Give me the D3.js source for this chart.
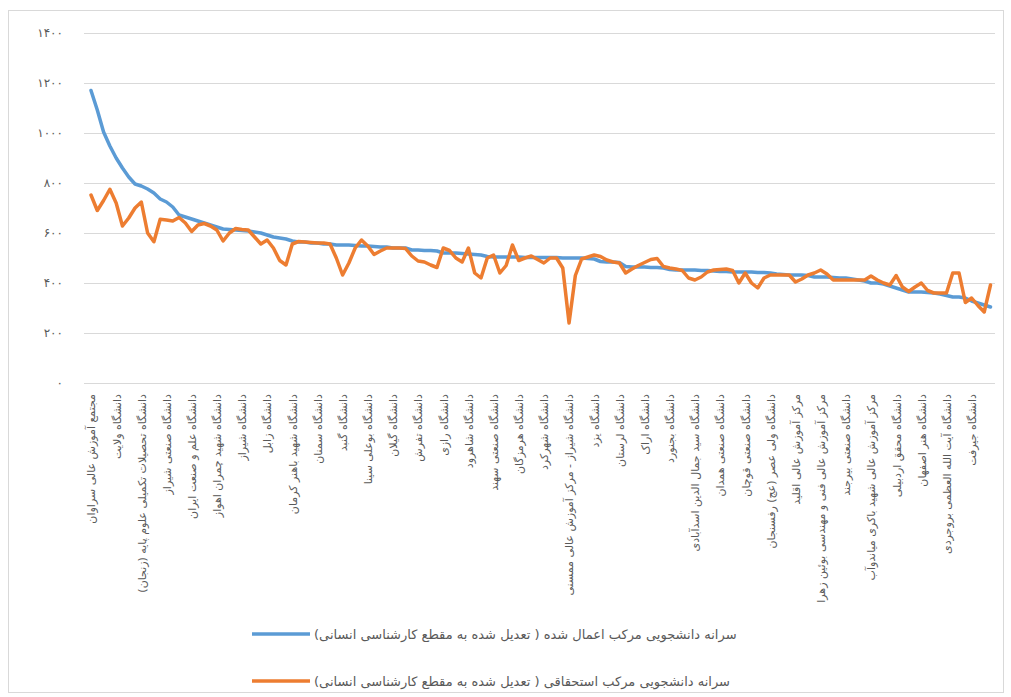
<!DOCTYPE html>
<html><head><meta charset="utf-8">
<script src="https://cdn.jsdelivr.net/npm/d3@7"></script>
<style>html,body{margin:0;padding:0;background:#fff;}svg{display:block;}</style>
</head><body>
<script>
// ---- data ----
const categoryLabels = [
"مجتمع آموزش عالی سراوان",
"دانشگاه ولایت",
"دانشگاه تحصیلات تکمیلی علوم پایه (زنجان)",
"دانشگاه صنعتی شیراز",
"دانشگاه علم و صنعت ایران",
"دانشگاه شهید چمران اهواز",
"دانشگاه شیراز",
"دانشگاه زابل",
"دانشگاه شهید باهنر کرمان",
"دانشگاه سمنان",
"دانشگاه گنبد",
"دانشگاه بوعلی سینا",
"دانشگاه گیلان",
"دانشگاه تفرش",
"دانشگاه رازی",
"دانشگاه شاهرود",
"دانشگاه صنعتی سهند",
"دانشگاه هرمزگان",
"دانشگاه شهرکرد",
"دانشگاه شیراز - مرکز آموزش عالی ممسنی",
"دانشگاه یزد",
"دانشگاه لرستان",
"دانشگاه اراک",
"دانشگاه بجنورد",
"دانشگاه سید جمال الدین اسدآبادی",
"دانشگاه صنعتی همدان",
"دانشگاه صنعتی قوچان",
"دانشگاه ولی عصر (عج) رفسنجان",
"مرکز آموزش عالی اقلید",
"مرکز آموزش عالی فنی و مهندسی بوئین زهرا",
"دانشگاه صنعتی بیرجند",
"مرکز آموزش عالی شهید باکری میاندوآب",
"دانشگاه محقق اردبیلی",
"دانشگاه هنر اصفهان",
"دانشگاه آیت الله العظمی بروجردی",
"دانشگاه جیرفت"
];
const labelEvery = 4; // one visible category label per 4 points

const appliedPerCapita = [
1170,1092,1004,948,900,860,824,796,788,776,
760,736,724,704,672,664,656,648,640,632,
624,616,614,612,610,608,604,600,592,584,
580,576,568,564,564,560,560,556,556,552,
552,552,550,548,548,546,544,544,540,540,
540,532,532,530,530,528,520,520,520,518,
516,514,512,506,504,504,504,504,504,502,
502,502,502,502,502,500,500,500,500,498,
496,486,484,484,482,466,464,464,464,462,
462,460,454,452,452,452,452,450,450,448,
446,446,444,444,444,444,442,442,440,436,
434,432,432,432,430,424,424,424,422,420,
420,416,412,408,400,400,396,388,380,372,
364,364,364,362,360,356,350,344,344,340,
328,320,312,304
];
const entitledPerCapita = [
752,690,730,775,720,628,660,700,724,600,
565,655,652,648,662,640,606,632,638,628,
612,568,600,618,614,612,584,556,572,540,
490,472,556,566,564,562,560,560,556,500,
432,480,540,572,548,514,528,540,540,540,
538,508,488,484,472,462,540,530,500,484,
540,440,420,500,512,440,470,552,490,500,
508,494,480,500,500,460,240,430,496,504,
512,506,492,484,480,440,456,470,482,494,
498,466,460,456,450,420,412,424,444,452,
454,456,450,400,440,400,380,420,432,432,
432,432,404,416,432,440,452,436,412,412,
412,412,412,412,428,412,400,392,430,384,
366,384,400,370,360,360,360,440,440,322,
340,310,284,392
];
const yTickValues = [0,200,400,600,800,1000,1200,1400];
const yTickLabels = ["۰","۲۰۰","۴۰۰","۶۰۰","۸۰۰","۱۰۰۰","۱۲۰۰","۱۴۰۰"];
const seriesNames = [
"سرانه دانشجویی مرکب اعمال شده ( تعدیل شده به مقطع کارشناسی انسانی)",
"سرانه دانشجویی مرکب استحقاقی  ( تعدیل شده به مقطع کارشناسی انسانی)"
];
const seriesColors = ["#5B9BD5","#ED7D31"];

// ---- chart ----
const W = 1011, H = 697;
const svg = d3.select("body").append("svg").attr("width", W).attr("height", H);
svg.append("rect").attr("width", W).attr("height", H).attr("fill", "#fff");
svg.append("rect").attr("x", 8.5).attr("y", 10.5).attr("width", 995).attr("height", 682)
  .attr("fill", "none").attr("stroke", "#D9D9D9");

const plotL = 84, plotR = 995;
const y = d3.scaleLinear().domain([0, 1400]).range([383, 33]);
const N = appliedPerCapita.length;
const x = d3.scalePoint().domain(d3.range(N)).range([91, 990.5]);

// gridlines
svg.append("g").selectAll("line").data(yTickValues).join("line")
  .attr("x1", plotL).attr("x2", plotR)
  .attr("y1", d => Math.round(y(d)) + 0.5).attr("y2", d => Math.round(y(d)) + 0.5)
  .attr("stroke", "#D9D9D9").attr("stroke-width", 1.2);

// y axis labels
const yAxis = d3.axisLeft(y).tickValues(yTickValues)
  .tickFormat((d, i) => yTickLabels[i]).tickSize(0).tickPadding(0);
const gy = svg.append("g").attr("transform", "translate(63,0)").call(yAxis);
gy.select(".domain").remove();
gy.selectAll("text").attr("font-family", "DejaVu Sans").attr("font-size", 12).attr("fill", "#595959");

// x axis labels
const xAxis = d3.axisBottom(x)
  .tickValues(d3.range(0, N, labelEvery).filter(i => i / labelEvery < categoryLabels.length))
  .tickFormat(i => "\u202B" + categoryLabels[i / labelEvery] + "\u202C")
  .tickSize(0);
const gx = svg.append("g").attr("transform", "translate(0,383)").call(xAxis);
gx.select(".domain").remove();
gx.selectAll("text")
  .attr("font-family", "DejaVu Sans").attr("font-size", 11).attr("fill", "#595959")
  .attr("text-anchor", "end")
  .attr("transform", "rotate(-90)")
  .attr("x", -11).attr("y", 0).attr("dy", "0.35em");

// lines
const line = d3.line().x((d, i) => x(i)).y(d => y(d));
[appliedPerCapita, entitledPerCapita].forEach((s, k) => {
  svg.append("path").datum(s).attr("d", line)
    .attr("fill", "none").attr("stroke", seriesColors[k])
    .attr("stroke-width", 3.5).attr("stroke-linejoin", "round").attr("stroke-linecap", "round");
});

// legend
const legendY = [634, 681];
seriesNames.forEach((name, k) => {
  const g = svg.append("g").attr("transform", `translate(252,${legendY[k]})`);
  g.append("line").attr("x1", 0).attr("x2", 58).attr("y1", 0).attr("y2", 0)
    .attr("stroke", seriesColors[k]).attr("stroke-width", 3.5);
  g.append("text").attr("x", 62).attr("y", 0).attr("dy", "0.35em")
    .attr("font-family", "DejaVu Sans").attr("font-size", 13).attr("fill", "#595959")
    .text("\u202B" + name + "\u202C");
});
</script>
</body></html>
